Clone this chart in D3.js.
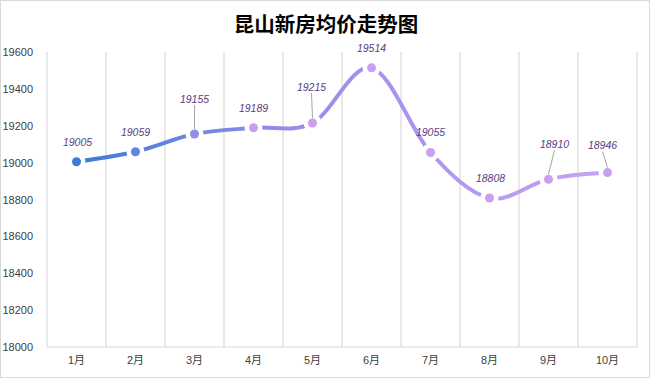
<!DOCTYPE html>
<html>
<head>
<meta charset="utf-8">
<script src="https://cdn.jsdelivr.net/npm/d3@7"></script>
<style>
	body{margin:0;background:#fff;}
	svg{display:block;}
	.tick text{font-family:"Liberation Sans Narrow","Liberation Sans","Noto Sans CJK SC",sans-serif;font-size:11px;fill:#404040;}
</style>
</head>
<body>
<svg id="myGraph" width="650" height="378"></svg>
<script>
window.addEventListener("load",function(){

	var svgWidth=650;
	var svgHeight=378;

	// data
	var months=["1月","2月","3月","4月","5月","6月","7月","8月","9月","10月"];
	var prices=[19005,19059,19155,19189,19215,19514,19055,18808,18910,18946];
	var yTicks=[18000,18200,18400,18600,18800,19000,19200,19400,19600];

	// label placement (dx, dy from point, leader line)
	var labelPos=[[1,-20,false],[0,-20,false],[0,-35,true],[0,-20,false],[-1,-36,true],
		[0,-20,false],[0,-20,false],[1,-20,false],[6,-35,true],[-5,-27,true]];

	var svg=d3.select("#myGraph");

	svg.append("rect")
		.attr("x",0.5).attr("y",0.5)
		.attr("width",svgWidth-1).attr("height",svgHeight-1)
		.attr("fill","#fff").attr("stroke","#d9d9d9");

	svg.append("text")
		.attr("x",svgWidth/2+1).attr("y",32)
		.attr("text-anchor","middle")
		.style("font-family","'Noto Sans CJK SC',sans-serif")
		.style("font-weight","bold")
		.style("font-size","20.5px")
		.style("fill","#000")
		.text("昆山新房均价走势图");

	var x=d3.scaleBand().domain(months).range([47,637]);
	var y=d3.scaleLinear().domain([18000,19600]).range([347,52]);
	var cx=function(i){return x(months[i])+x.bandwidth()/2;};

	// vertical grid lines
	var edges=d3.range(months.length+1).map(function(i){return 47+i*x.step();});
	svg.selectAll("line.grid")
		.data(edges)
		.enter()
		.append("line")
		.attr("class","grid")
		.attr("x1",function(d){return d;}).attr("x2",function(d){return d;})
		.attr("y1",y(19600)).attr("y2",y(18000))
		.attr("stroke","#d9d9d9").attr("stroke-width",1.2);

	svg.append("line")
		.attr("x1",47).attr("x2",637)
		.attr("y1",y(18000)).attr("y2",y(18000))
		.attr("stroke","#d9d9d9").attr("stroke-width",1.2);

	var yAxis=svg.append("g")
		.attr("transform","translate(47,0)")
		.call(d3.axisLeft(y).tickValues(yTicks).tickSize(0).tickPadding(14).tickFormat(d3.format("d")));
	yAxis.select(".domain").remove();

	var xAxis=svg.append("g")
		.attr("transform","translate(0,"+y(18000)+")")
		.call(d3.axisBottom(x).tickSize(0).tickPadding(9));
	xAxis.select(".domain").remove();

	// gradient + mask
	var defs=svg.append("defs");
	var grad=defs.append("linearGradient")
		.attr("id","lineGrad")
		.attr("gradientUnits","userSpaceOnUse")
		.attr("x1",cx(0)).attr("x2",cx(months.length-1))
		.attr("y1",0).attr("y2",0);
	grad.selectAll("stop")
		.data([[0,"#3c7ad8"],[0.33,"#8a8ae6"],[0.55,"#a591ee"],[1,"#c8a2f2"]])
		.enter()
		.append("stop")
		.attr("offset",function(d){return d[0];})
		.attr("stop-color",function(d){return d[1];});

	var mask=defs.append("mask").attr("id","gapMask")
		.attr("maskUnits","userSpaceOnUse")
		.attr("x",0).attr("y",0).attr("width",svgWidth).attr("height",svgHeight);
	mask.append("rect").attr("width",svgWidth).attr("height",svgHeight).attr("fill","#fff");
	mask.selectAll("circle")
		.data(prices)
		.enter()
		.append("circle")
		.attr("cx",function(d,i){return cx(i);})
		.attr("cy",function(d){return y(d);})
		.attr("r",9)
		.attr("fill","#000");

	var line=d3.line()
		.x(function(d,i){return cx(i);})
		.y(function(d){return y(d);})
		.curve(d3.curveCardinal.tension(0));

	svg.append("path")
		.datum(prices)
		.attr("d",line)
		.attr("fill","none")
		.attr("stroke","url(#lineGrad)")
		.attr("stroke-width",4)
		.attr("mask","url(#gapMask)");

	var markerColor=d3.scaleLinear()
		.domain([0,1,2,3,9])
		.range(["#3b7bd8","#6585dd","#8f8fe2","#cb9df0","#c9a0f1"]);

	svg.selectAll("circle.dot")
		.data(prices)
		.enter()
		.append("circle")
		.attr("class","dot")
		.attr("cx",function(d,i){return cx(i);})
		.attr("cy",function(d){return y(d);})
		.attr("r",4.5)
		.attr("fill",function(d,i){return markerColor(i);});

	// leader lines
	var leaderIdx=d3.range(prices.length).filter(function(i){return labelPos[i][2];});
	svg.selectAll("line.leader")
		.data(leaderIdx)
		.enter()
		.append("line")
		.attr("class","leader")
		.attr("x1",function(i){return cx(i)+labelPos[i][0];})
		.attr("y1",function(i){return y(prices[i])+labelPos[i][1]+6;})
		.attr("x2",function(i){return cx(i);})
		.attr("y2",function(i){return y(prices[i])-5;})
		.attr("stroke","#a6a6a6").attr("stroke-width",1);

	svg.selectAll("text.val")
		.data(prices)
		.enter()
		.append("text")
		.attr("class","val")
		.attr("x",function(d,i){return cx(i)+labelPos[i][0];})
		.attr("y",function(d,i){return y(d)+labelPos[i][1]+3.8;})
		.attr("text-anchor","middle")
		.style("font-family","'Liberation Sans',sans-serif")
		.style("font-style","italic")
		.style("font-size","10.5px")
		.style("fill","#5b3d82")
		.text(function(d){return d;});
});
</script>
</body>
</html>
